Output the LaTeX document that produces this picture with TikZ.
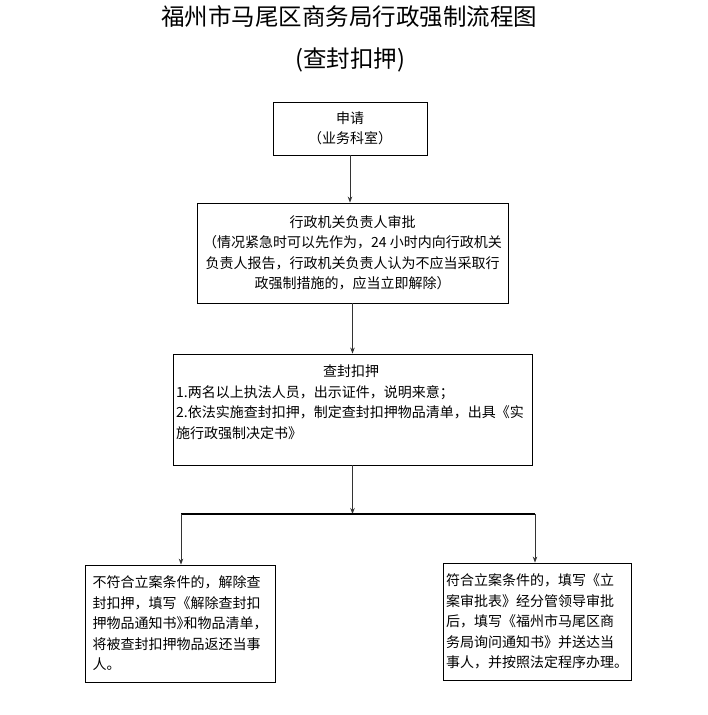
\documentclass[tikz,border=0pt]{standalone}
\usepackage{fontspec}
\setmainfont{Noto Sans CJK SC}
\usetikzlibrary{arrows.meta}

\begin{document}
\begin{tikzpicture}[x=1pt, y=-1pt,
  box/.style={draw, line width=0.8pt, inner sep=0pt, align=center, font=\fontsize{14}{20.5}\selectfont},
  txt/.style={inner sep=0pt, align=left, font=\fontsize{14}{20.5}\selectfont},
  title/.style={inner sep=0pt, font=\fontsize{23.5}{28}\selectfont},
  arrow/.style={draw=black!80, line width=1pt, -{Stealth[length=6pt, width=4.5pt]}},
  branch/.style={draw=black, line width=2pt}]
\useasboundingbox (0,0) rectangle (708,715);

% 标题
\node[title] (head) at (349, 17) {福州市马尾区商务局行政强制流程图};
\node[title] (sub) at (350, 60) {(查封扣押)};

% 流程框
\node[box, minimum width=154pt, minimum height=53pt] (apply) at (350, 128.5)
  {申请\\（业务科室）};
\node[box, minimum width=311pt, minimum height=100pt] (approve) at (352.5, 253)
  {行政机关负责人审批\\
   （情况紧急时可以先作为，24 小时内向行政机关\\
   负责人报告，行政机关负责人认为不应当采取行\\
   政强制措施的，应当立即解除）};
\node[box, minimum width=359pt, minimum height=111pt] (seal) at (352.5, 409.5) {};
\node[txt, text width=350pt, anchor=north west] (sealtext) at (176, 365)
  {\makebox[350pt]{查封扣押}\\
   1.两名以上执法人员，出示证件，说明来意；\\
   2.依法实施查封扣押，制定查封扣押物品清单，出具《实\\
   施行政强制决定书》};

% 两种结果
\node[box, align=left, minimum width=190pt, minimum height=117pt] (refuse) at (180, 623.5)
  {不符合立案条件的，解除查\\
   封扣押，填写《解除查封扣\\
   押物品通知书\makebox[7pt][l]{》}和物品清单，\\
   将被查封扣押物品返还当事\\
   人。};
\node[box, align=left, minimum width=188pt, minimum height=117pt] (accept) at (537, 621.5)
  {符合立案条件的，填写《立\\
   案审批表》经分管领导审批\\
   后，填写《福州市马尾区商\\
   务局询问通知书》并送达当\\
   事人，并按照法定程序办理。};

% 连线
\coordinate (forkL) at (181, 514);
\coordinate (forkR) at (535, 514);
\draw[arrow] (apply.south) -- (apply.south |- approve.north);
\draw[arrow] (approve.south) -- (approve.south |- seal.north);
\draw[arrow] (seal.south) -- (seal.south |- forkL);
\draw[branch] (forkL) -- (forkR);
\draw[arrow] (forkL) -- (forkL |- refuse.north);
\draw[arrow] (forkR) -- (forkR |- accept.north);

\end{tikzpicture}
\end{document}
